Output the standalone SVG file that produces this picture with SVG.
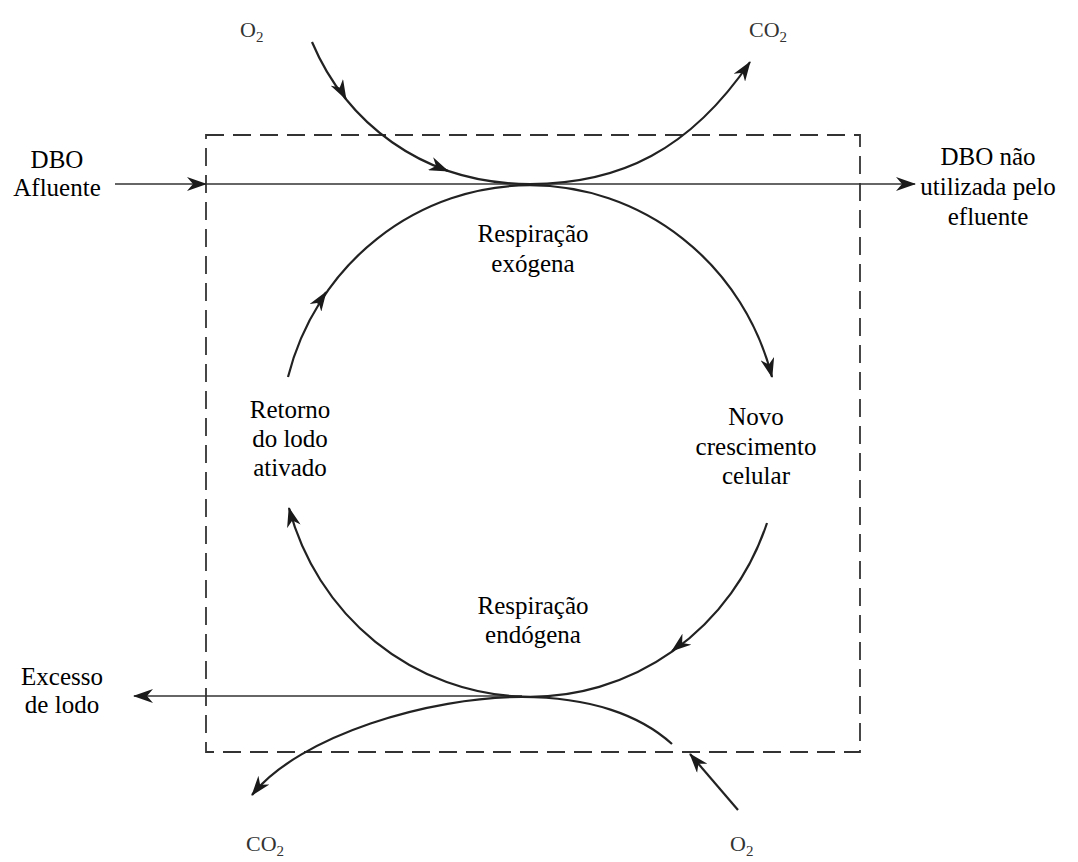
<svg xmlns="http://www.w3.org/2000/svg" width="1078" height="862" viewBox="0 0 1078 862">
<defs>
<marker id="ah" viewBox="0 0 20 14" refX="19" refY="7" markerWidth="20" markerHeight="14" markerUnits="userSpaceOnUse" orient="auto"><path d="M0,0 L20,7 L0,14 L6,7 z" fill="#1a1a1a"/></marker>
<style>
.t{font-family:"Liberation Serif","Times New Roman",serif;font-size:25px;fill:#000;text-anchor:middle}
.g{font-family:"Liberation Serif","Times New Roman",serif;font-size:22px;fill:#333;text-anchor:start}
.c{fill:none;stroke:#222;stroke-width:2.2}
.h{fill:none;stroke:#333;stroke-width:1.6}
.m{fill:none;stroke:#222;stroke-width:2;marker-end:url(#ah)}
.box{fill:none;stroke:#333;stroke-width:1.8;stroke-dasharray:18 9}
</style>
</defs>
<rect width="1078" height="862" fill="#fff"/>
<rect class="box" x="206" y="135" width="654" height="617"/>
<g id="connectors">
<path class="h" d="M115,184 L206,184" marker-end="url(#ah)"/>
<path class="h" d="M206,184 L915,184" marker-end="url(#ah)"/>
<path class="h" d="M522,696 L134,696" marker-end="url(#ah)"/>
<path class="c" d="M312,42 C345,120 420,184 530,184"/>
<path class="m" d="M340,88 L346,99"/>
<path class="m" d="M436,166 L448,171"/>
<path class="c" d="M530,184 C620,184 690,150 750,62" marker-end="url(#ah)"/>
<path class="c" d="M288,377 A250,256 0 0 1 772,377" marker-end="url(#ah)"/>
<path class="m" d="M318,304 L326,292"/>
<path class="c" d="M767,523 A250,256 0 0 1 289,508" marker-end="url(#ah)"/>
<path class="m" d="M682,643 L672,651"/>
<path class="c" d="M522,697 C590,697 640,715 672,744"/>
<path class="c" d="M522,697 C430,697 300,735 252,795" marker-end="url(#ah)"/>
<path class="c" d="M738,810 L690,754" marker-end="url(#ah)"/>
</g>
<g id="dbo-afluente"><text class="t" x="57" y="168">DBO</text><text class="t" x="57" y="196">Afluente</text></g>
<g id="dbo-nao-utilizada"><text class="t" x="988" y="165">DBO não</text><text class="t" x="988" y="195">utilizada pelo</text><text class="t" x="988" y="225">efluente</text></g>
<g id="respiracao-exogena"><text class="t" x="533" y="242">Respiração</text><text class="t" x="533" y="272">exógena</text></g>
<g id="retorno"><text class="t" x="290" y="418">Retorno</text><text class="t" x="290" y="447">do lodo</text><text class="t" x="290" y="476">ativado</text></g>
<g id="novo-crescimento"><text class="t" x="756" y="425">Novo</text><text class="t" x="756" y="455">crescimento</text><text class="t" x="756" y="484">celular</text></g>
<g id="respiracao-endogena"><text class="t" x="533" y="614">Respiração</text><text class="t" x="533" y="643">endógena</text></g>
<g id="excesso"><text class="t" x="62" y="685">Excesso</text><text class="t" x="62" y="713">de lodo</text></g>
<g id="o2-top"><text class="g" x="240" y="37">O<tspan font-size="15" dy="5">2</tspan></text></g>
<g id="co2-top"><text class="g" x="749" y="37">CO<tspan font-size="15" dy="5">2</tspan></text></g>
<g id="co2-bottom"><text class="g" x="246" y="851">CO<tspan font-size="15" dy="5">2</tspan></text></g>
<g id="o2-bottom"><text class="g" x="730" y="851">O<tspan font-size="15" dy="5">2</tspan></text></g>
</svg>
